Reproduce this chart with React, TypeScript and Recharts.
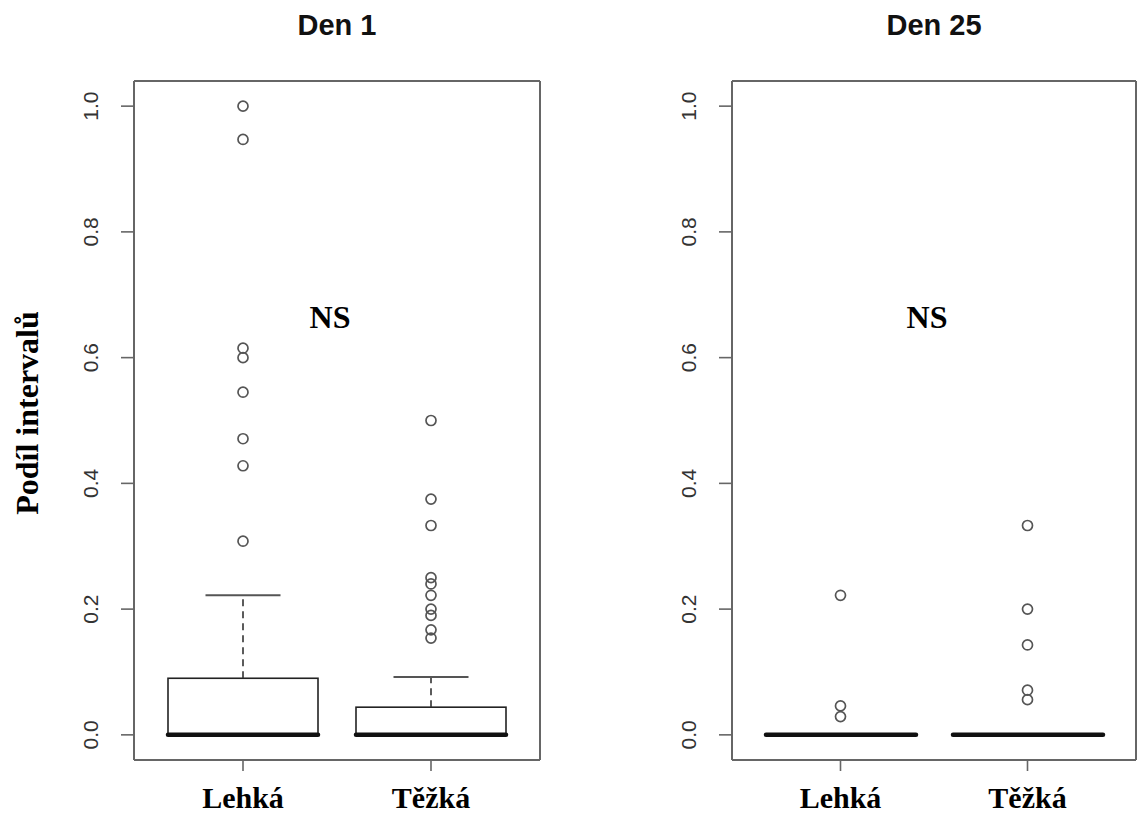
import { ComposedChart, Bar, Scatter, XAxis, YAxis, CartesianGrid } from 'recharts';

const SANS = "Arial, 'Liberation Sans', sans-serif";
const SERIF = "'Times New Roman', 'Liberation Serif', serif";

// groups on the x axis
const groups = ['Lehká', 'Těžká'];
const yTicks = [0, 0.2, 0.4, 0.6, 0.8, 1.0];

// box statistics per panel (q1, median, q3, upper whisker)
const day1Q1 = [0, 0];
const day1Median = [0, 0];
const day1Q3 = [0.09, 0.044];
const day1Whisker = [0.222, 0.092];

const day25Q1 = [0, 0];
const day25Median = [0, 0];
const day25Q3 = [0, 0];
const day25Whisker = [0, 0];

// outliers
const day1LehkaOut = [1.0, 0.947, 0.615, 0.6, 0.545, 0.471, 0.428, 0.308];
const day1TezkaOut = [0.5, 0.375, 0.333, 0.25, 0.24, 0.222, 0.2, 0.19, 0.167, 0.154];
const day25LehkaOut = [0.222, 0.046, 0.029];
const day25TezkaOut = [0.333, 0.2, 0.143, 0.071, 0.056];

function buildBoxes(q1: number[], med: number[], q3: number[], wh: number[]) {
  return groups.map((g, i) => ({ group: g, q1: q1[i], median: med[i], q3: q3[i], whisker: wh[i] }));
}

function buildOutliers(a: number[], b: number[]) {
  return [
    ...a.map((v) => ({ group: groups[0], value: v })),
    ...b.map((v) => ({ group: groups[1], value: v })),
  ];
}

const BoxShape = (p: any) => {
  const top = Math.min(p.y, p.y + p.height);
  const h = Math.abs(p.height);
  if (!h || h < 0.5) return null;
  return <rect x={p.x} y={top} width={p.width} height={h} fill="#fff" stroke="#222" strokeWidth={1.6} />;
};

const WhiskerShape = (p: any) => {
  const top = Math.min(p.y, p.y + p.height);
  const bottom = Math.max(p.y, p.y + p.height);
  if (bottom - top < 0.5) return null;
  const cx = p.x + p.width / 2;
  return (
    <g>
      <line x1={cx} x2={cx} y1={bottom} y2={top} stroke="#333" strokeWidth={1.6} strokeDasharray="7 5" />
      <line x1={cx - p.width / 4} x2={cx + p.width / 4} y1={top} y2={top} stroke="#555" strokeWidth={2} />
    </g>
  );
};

const MedianShape = (p: any) => (
  <line x1={p.x} x2={p.x + p.width} y1={p.y} y2={p.y} stroke="#111" strokeWidth={4.5} strokeLinecap="round" />
);

const OutlierShape = (p: any) => (
  <circle cx={p.cx} cy={p.cy} r={5} fill="none" stroke="#555" strokeWidth={1.7} />
);

function YTick(props: any) {
  const { x, y, payload } = props;
  return (
    <text x={x} y={y} transform={`rotate(-90 ${x} ${y})`} textAnchor="middle" fontSize={21} fill="#333" fontFamily={SANS}>
      {Number(payload.value).toFixed(1)}
    </text>
  );
}

function XTick(props: any) {
  const { x, y, payload } = props;
  return (
    <text x={x} y={y + 37} textAnchor="middle" fontSize={30} fontWeight="bold" fill="#000" fontFamily={SERIF}>
      {payload.value}
    </text>
  );
}

const frameH = ({ offset }: any) => [offset.top, offset.top + offset.height];
const frameV = ({ offset }: any) => [offset.left, offset.left + offset.width];

function BoxPanel({ boxes, outliers, width, axisWidth, right }: any) {
  return (
    <ComposedChart
      width={width}
      height={816}
      data={boxes}
      margin={{ top: 81, right, bottom: 0, left: 0 }}
      barGap={-150}
      barSize={150}
    >
      <CartesianGrid
        stroke="#666"
        strokeWidth={2}
        horizontalCoordinatesGenerator={frameH}
        verticalCoordinatesGenerator={frameV}
      />
      <XAxis
        dataKey="group"
        type="category"
        allowDuplicatedCategory={false}
        padding={{ left: 15, right: 15 }}
        axisLine={false}
        tickSize={11}
        tickMargin={0}
        tickLine={{ stroke: '#666', strokeWidth: 1.6 }}
        tick={<XTick />}
        height={56}
      />
      <YAxis
        type="number"
        domain={[-0.04, 1.04]}
        ticks={yTicks}
        allowDataOverflow
        width={axisWidth}
        axisLine={false}
        tickSize={13}
        tickMargin={23}
        tickLine={{ stroke: '#666', strokeWidth: 1.6 }}
        tick={<YTick />}
        interval={0}
      />
      <Bar dataKey={(d: any) => [d.q1, d.q3]} shape={BoxShape} isAnimationActive={false} activeBar={false} />
      <Bar dataKey={(d: any) => [d.q3, d.whisker]} shape={WhiskerShape} isAnimationActive={false} activeBar={false} />
      <Bar dataKey={(d: any) => [d.median, d.median]} shape={MedianShape} isAnimationActive={false} activeBar={false} />
      <Scatter data={outliers} dataKey="value" shape={OutlierShape} isAnimationActive={false} />
    </ComposedChart>
  );
}

export default function App() {
  const day1Boxes = buildBoxes(day1Q1, day1Median, day1Q3, day1Whisker);
  const day25Boxes = buildBoxes(day25Q1, day25Median, day25Q3, day25Whisker);
  const day1Out = buildOutliers(day1LehkaOut, day1TezkaOut);
  const day25Out = buildOutliers(day25LehkaOut, day25TezkaOut);

  return (
    <div style={{ position: 'absolute', left: 0, top: 0, width: 1138, height: 816, background: '#fff', overflow: 'hidden' }}>
      <div style={{ position: 'absolute', left: 0, top: 0 }}>
        <BoxPanel boxes={day1Boxes} outliers={day1Out} width={570} axisWidth={134} right={30} />
      </div>
      <div style={{ position: 'absolute', left: 570, top: 0 }}>
        <BoxPanel boxes={day25Boxes} outliers={day25Out} width={568} axisWidth={162} right={2} />
      </div>
      <svg width={1138} height={816} style={{ position: 'absolute', left: 0, top: 0, pointerEvents: 'none' }}>
        <text x={337} y={35} textAnchor="middle" fontSize={29} fontWeight="bold" fontFamily={SANS} fill="#111">Den 1</text>
        <text x={934} y={35} textAnchor="middle" fontSize={29} fontWeight="bold" fontFamily={SANS} fill="#111">Den 25</text>
        <text x={330} y={328} textAnchor="middle" fontSize={32} fontWeight="bold" fontFamily={SERIF} fill="#000">NS</text>
        <text x={927} y={328} textAnchor="middle" fontSize={32} fontWeight="bold" fontFamily={SERIF} fill="#000">NS</text>
        <text x={38} y={413} transform="rotate(-90 38 413)" textAnchor="middle" fontSize={32} fontWeight="bold" fontFamily={SERIF} fill="#000">
          Podíl intervalů
        </text>
      </svg>
    </div>
  );
}
